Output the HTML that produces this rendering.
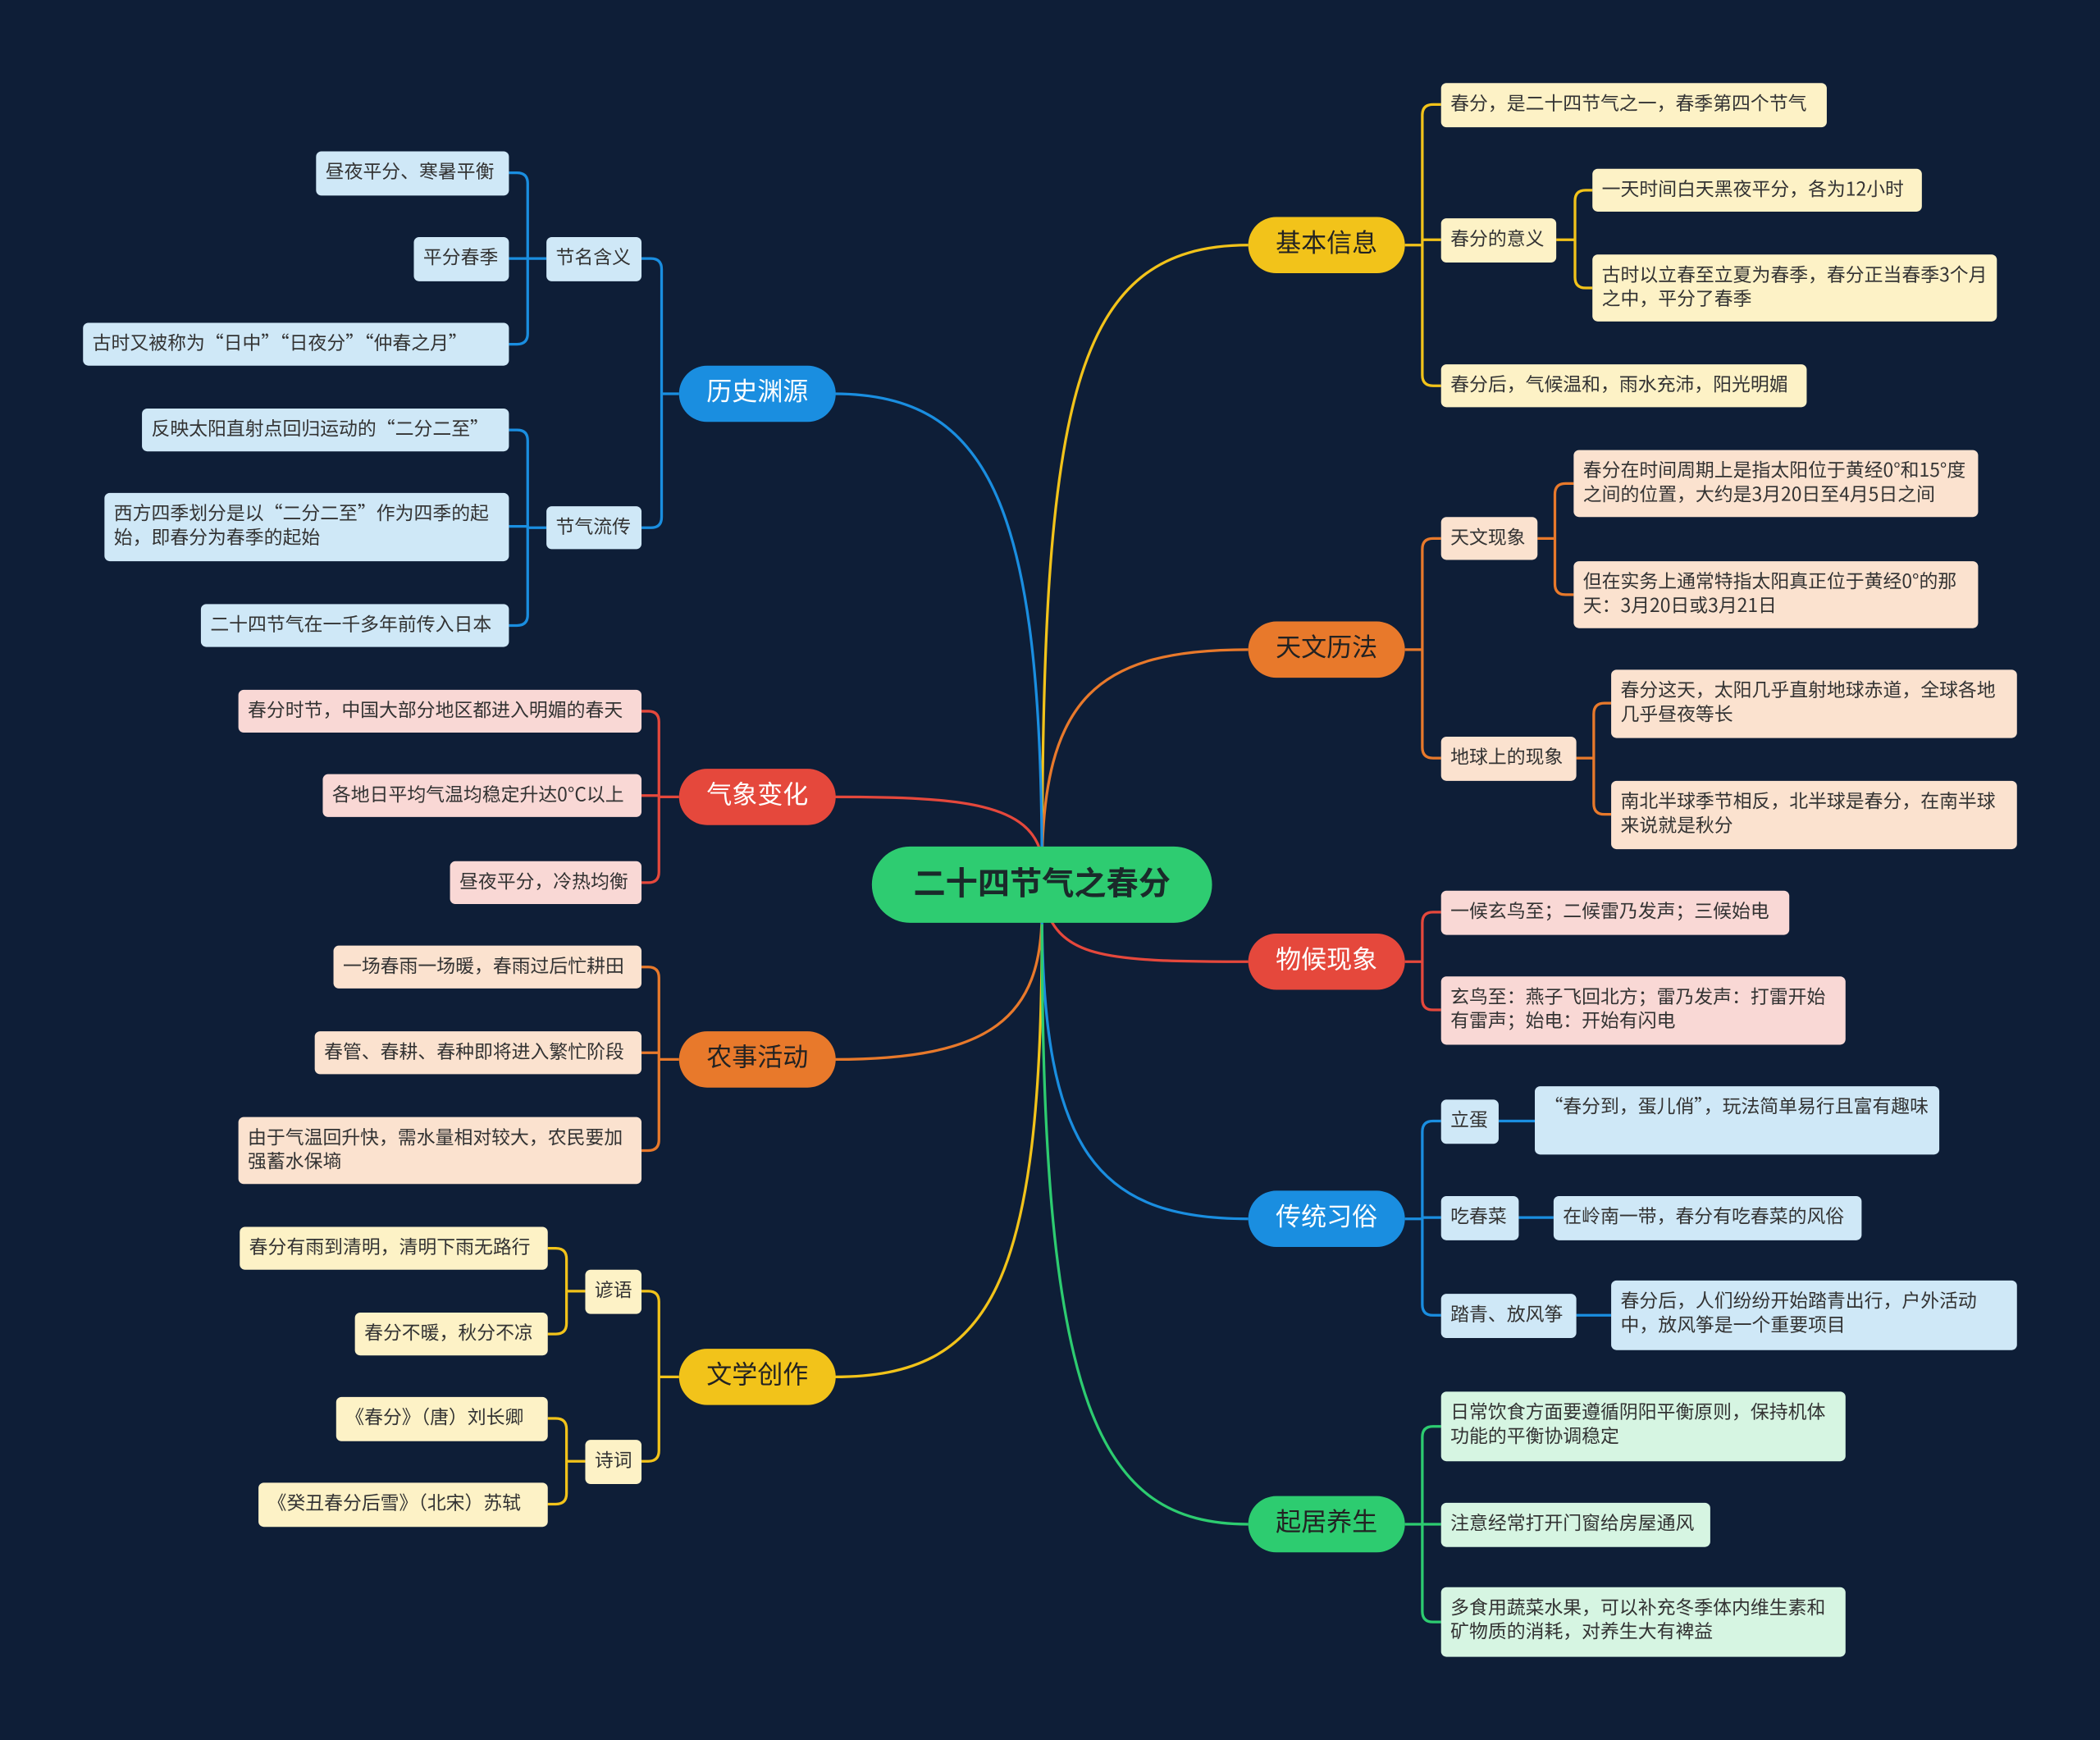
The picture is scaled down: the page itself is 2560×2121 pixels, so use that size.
<!DOCTYPE html>
<html><head><meta charset="utf-8">
<style>
html,body{margin:0;padding:0;background:#0e1e37;width:2560px;height:2120px;overflow:hidden}
#c{position:absolute;left:0;top:0;width:1568px;height:1299px;transform:scale(1.63265);transform-origin:0 0;font-family:"Liberation Sans","Noto Sans CJK SC",sans-serif}
svg{position:absolute;left:0;top:0}
.l{position:absolute;border-radius:4px;font-size:14px;color:#333;padding:6px 7px;box-sizing:border-box;line-height:18px;white-space:normal;font-family:"Noto Sans CJK SC",sans-serif}
.y{background:#fdf2c6}.o{background:#fbe2cf}.r{background:#f9d8d5}.b{background:#cfe8f7}.g{background:#d6f5e2}
.m{position:absolute;width:117px;height:42px;border-radius:21px;font-size:19px;line-height:42px;text-align:center;color:#222}
.ctr{position:absolute;left:651px;top:632px;width:254px;height:57px;border-radius:29px;background:#2ecc71;font-size:24px;font-weight:bold;line-height:57px;text-align:center;color:#1a2a2a}
</style></head><body><div id="c">
<svg width="1568" height="1299" fill="none" stroke-width="2">
<g stroke="#f2c31a">
<path d="M778,660 C778,300 800,183 932,183"/>
<path d="M1049,183 H1062 M1062,183 V86 Q1062,78 1070,78 H1076 M1062,183 V179 H1076 M1062,183 V280 Q1062,288 1070,288 H1076"/>
<path d="M1162,179 H1176 M1176,179 V150 Q1176,142 1184,142 H1189 M1176,179 V207 Q1176,215 1184,215 H1189"/>
<path d="M778,690 C778,960 740,1028 623,1028"/>
<path d="M507,1028 H492 M492,1028 V972 Q492,964 484,964 H479 M492,1028 V1083 Q492,1091 484,1091 H479"/>
<path d="M437,964 H423 M423,964 V940 Q423,932 415,932 H409 M423,964 V988 Q423,996 415,996 H409"/>
<path d="M437,1091 H423 M423,1091 V1067 Q423,1059 415,1059 H409 M423,1091 V1115 Q423,1123 415,1123 H409"/>
</g>
<g stroke="#e8792b">
<path d="M778,650 C778,520 820,485 932,485"/>
<path d="M1049,485 H1062 M1062,485 V410 Q1062,402 1070,402 H1076 M1062,485 V558 Q1062,566 1070,566 H1076"/>
<path d="M1148,402 H1161 M1161,402 V369 Q1161,361 1169,361 H1175 M1161,402 V436 Q1161,444 1169,444 H1175"/>
<path d="M1177,566 H1190 M1190,566 V533 Q1190,525 1198,525 H1203 M1190,566 V600 Q1190,608 1198,608 H1203"/>
<path d="M778,680 C778,760 740,791 623,791"/>
<path d="M507,791 H492 M492,791 V730 Q492,722 484,722 H479 M492,791 V786 H479 M492,791 V851 Q492,859 484,859 H479"/>
</g>
<g stroke="#e5483c">
<path d="M778,670 C790,715 820,718 932,718"/>
<path d="M1049,718 H1062 M1062,718 V689 Q1062,681 1070,681 H1076 M1062,718 V746 Q1062,754 1070,754 H1076"/>
<path d="M778,640 C770,600 720,595 623,595"/>
<path d="M507,595 H492 M492,595 V539 Q492,531 484,531 H479 M492,595 V594 H479 M492,595 V651 Q492,659 484,659 H479"/>
</g>
<g stroke="#1a8ee0">
<path d="M778,680 C778,860 820,910 932,910"/>
<path d="M1049,910 H1062 M1062,910 V845 Q1062,837 1070,837 H1076 M1062,910 V909 H1076 M1062,910 V974 Q1062,982 1070,982 H1076"/>
<path d="M1119,837 H1146 M1134,909 H1160 M1177,982 H1203"/>
<path d="M778,650 C778,380 740,294 623,294"/>
<path d="M507,294 H494 M494,294 V201 Q494,193 486,193 H479 M494,294 V386 Q494,394 486,394 H479"/>
<path d="M408,193 H394 M394,193 V137 Q394,129 386,129 H380 M394,193 H380 M394,193 V249 Q394,257 386,257 H380"/>
<path d="M408,394 H394 M394,394 V329 Q394,321 386,321 H380 M394,394 V393 H380 M394,394 V459 Q394,467 386,467 H380"/>
</g>
<g stroke="#2dcc70">
<path d="M778,690 C778,1050 820,1138 932,1138"/>
<path d="M1049,1138 H1062 M1062,1138 V1073 Q1062,1065 1070,1065 H1076 M1062,1138 H1076 M1062,1138 V1203 Q1062,1211 1070,1211 H1076"/>
</g>
</svg>

<div class="ctr">二十四节气之春分</div>
<div class="m" style="left:932px;top:162px;background:#f2c31a">基本信息</div>
<div class="m" style="left:932px;top:464px;background:#e8792b">天文历法</div>
<div class="m" style="left:932px;top:697px;background:#e5483c;color:#fff">物候现象</div>
<div class="m" style="left:932px;top:889px;background:#1a8ee0;color:#fff">传统习俗</div>
<div class="m" style="left:932px;top:1117px;background:#2dcc70">起居养生</div>
<div class="m" style="left:507px;top:273px;background:#1a8ee0;color:#fff">历史渊源</div>
<div class="m" style="left:507px;top:574px;background:#e5483c;color:#fff">气象变化</div>
<div class="m" style="left:507px;top:770px;background:#e8792b">农事活动</div>
<div class="m" style="left:507px;top:1007px;background:#f2c31a">文学创作</div>

<div class="l y" style="left:1076px;top:62px;width:288px;height:33px">春分，是二十四节气之一，春季第四个节气</div>
<div class="l y" style="left:1076px;top:163px;width:86px;height:33px">春分的意义</div>
<div class="l y" style="left:1189px;top:126px;width:246px;height:32px">一天时间白天黑夜平分，各为12小时</div>
<div class="l y" style="left:1189px;top:190px;width:302px;height:50px">古时以立春至立夏为春季，春分正当春季3个月之中，平分了春季</div>
<div class="l y" style="left:1076px;top:272px;width:273px;height:32px">春分后，气候温和，雨水充沛，阳光明媚</div>

<div class="l o" style="left:1076px;top:386px;width:72px;height:32px">天文现象</div>
<div class="l o" style="left:1175px;top:336px;width:302px;height:50px">春分在时间周期上是指太阳位于黄经0°和15°度之间的位置，大约是3月20日至4月5日之间</div>
<div class="l o" style="left:1175px;top:419px;width:302px;height:50px">但在实务上通常特指太阳真正位于黄经0°的那天：3月20日或3月21日</div>
<div class="l o" style="left:1076px;top:550px;width:101px;height:33px">地球上的现象</div>
<div class="l o" style="left:1203px;top:500px;width:303px;height:51px">春分这天，太阳几乎直射地球赤道，全球各地几乎昼夜等长</div>
<div class="l o" style="left:1203px;top:583px;width:303px;height:51px">南北半球季节相反，北半球是春分，在南半球来说就是秋分</div>

<div class="l r" style="left:1076px;top:665px;width:260px;height:33px">一候玄鸟至；二候雷乃发声；三候始电</div>
<div class="l r" style="left:1076px;top:729px;width:302px;height:51px">玄鸟至：燕子飞回北方；雷乃发声：打雷开始有雷声；始电：开始有闪电</div>

<div class="l b" style="left:1076px;top:821px;width:43px;height:33px">立蛋</div>
<div class="l b" style="left:1146px;top:811px;width:302px;height:51px">“春分到，蛋儿俏”，玩法简单易行且富有趣味</div>
<div class="l b" style="left:1076px;top:893px;width:58px;height:33px">吃春菜</div>
<div class="l b" style="left:1160px;top:893px;width:230px;height:33px">在岭南一带，春分有吃春菜的风俗</div>
<div class="l b" style="left:1076px;top:966px;width:101px;height:33px">踏青、放风筝</div>
<div class="l b" style="left:1203px;top:956px;width:303px;height:52px">春分后，人们纷纷开始踏青出行，户外活动中，放风筝是一个重要项目</div>

<div class="l g" style="left:1076px;top:1039px;width:302px;height:52px">日常饮食方面要遵循阴阳平衡原则，保持机体功能的平衡协调稳定</div>
<div class="l g" style="left:1076px;top:1122px;width:201px;height:33px">注意经常打开门窗给房屋通风</div>
<div class="l g" style="left:1076px;top:1185px;width:302px;height:52px">多食用蔬菜水果，可以补充冬季体内维生素和矿物质的消耗，对养生大有裨益</div>

<div class="l b" style="left:408px;top:177px;width:71px;height:33px">节名含义</div>
<div class="l b" style="left:236px;top:113px;width:144px;height:33px">昼夜平分、寒暑平衡</div>
<div class="l b" style="left:309px;top:177px;width:71px;height:33px">平分春季</div>
<div class="l b" style="left:62px;top:241px;width:318px;height:32px">古时又被称为“日中”“日夜分”“仲春之月”</div>
<div class="l b" style="left:408px;top:378px;width:71px;height:32px">节气流传</div>
<div class="l b" style="left:106px;top:305px;width:274px;height:32px">反映太阳直射点回归运动的“二分二至”</div>
<div class="l b" style="left:78px;top:368px;width:302px;height:51px">西方四季划分是以“二分二至”作为四季的起始，即春分为春季的起始</div>
<div class="l b" style="left:150px;top:451px;width:230px;height:32px">二十四节气在一千多年前传入日本</div>

<div class="l r" style="left:178px;top:515px;width:301px;height:32px">春分时节，中国大部分地区都进入明媚的春天</div>
<div class="l r" style="left:241px;top:578px;width:238px;height:32px">各地日平均气温均稳定升达0°C以上</div>
<div class="l r" style="left:336px;top:643px;width:143px;height:32px">昼夜平分，冷热均衡</div>

<div class="l o" style="left:249px;top:706px;width:230px;height:32px">一场春雨一场暖，春雨过后忙耕田</div>
<div class="l o" style="left:235px;top:770px;width:244px;height:32px">春管、春耕、春种即将进入繁忙阶段</div>
<div class="l o" style="left:178px;top:834px;width:301px;height:50px">由于气温回升快，需水量相对较大，农民要加强蓄水保墒</div>

<div class="l y" style="left:437px;top:948px;width:42px;height:33px">谚语</div>
<div class="l y" style="left:179px;top:916px;width:230px;height:32px">春分有雨到清明，清明下雨无路行</div>
<div class="l y" style="left:265px;top:980px;width:144px;height:32px">春分不暖，秋分不凉</div>
<div class="l y" style="left:437px;top:1075px;width:42px;height:33px">诗词</div>
<div class="l y" style="left:251px;top:1043px;width:158px;height:33px">《春分》（唐）刘长卿</div>
<div class="l y" style="left:193px;top:1107px;width:216px;height:33px">《癸丑春分后雪》（北宋）苏轼</div>
</div></body></html>
